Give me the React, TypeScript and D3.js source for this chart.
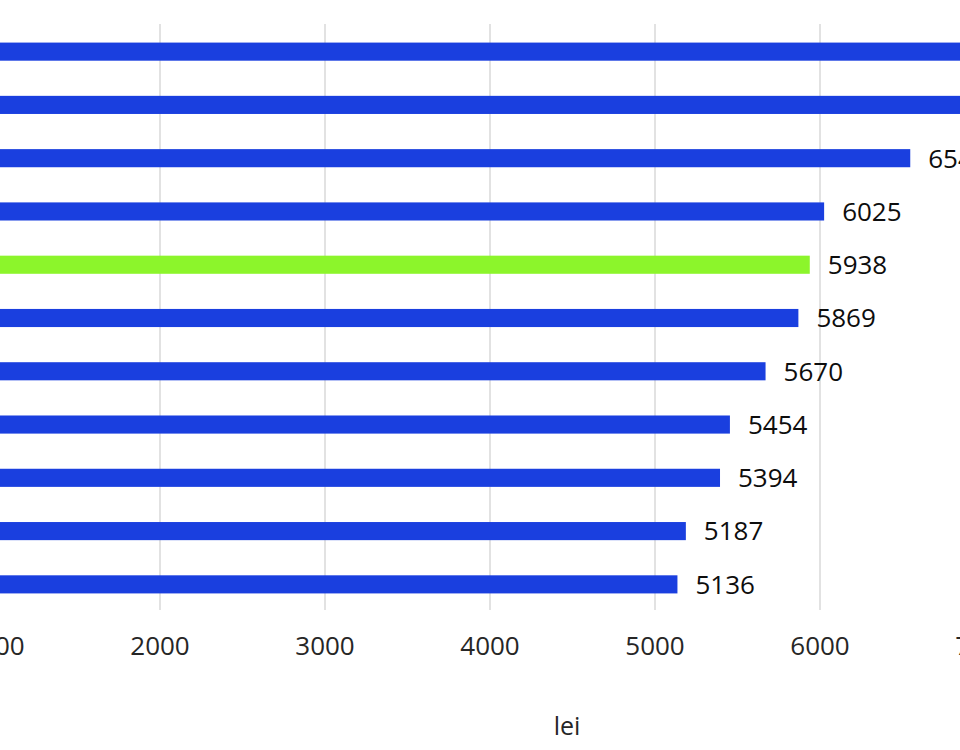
import * as d3 from 'd3';
import React from 'react';
import { useEffect, useRef } from 'react';

// bars top to bottom (first two run past the crop, labels not visible)
const values = [7620, 7310, 6547, 6025, 5938, 5869, 5670, 5454, 5394, 5187, 5136];
const highlight = [false, false, false, false, true, false, false, false, false, false, false];
const ticks = [1000, 2000, 3000, 4000, 5000, 6000, 7000];
const axisTitle = 'lei';

const App = () => {
    const ref = useRef<any>();

    useEffect(() => {
        const width = 960;
        const height = 750;
        const svg = d3.select<any, any>(ref.current)
            .attr('width', width)
            .attr('height', height);
        svg.selectAll('*').remove();

        const font = '"Open Sans", sans-serif';

        // the chart is cropped: 0 sits left of the visible area
        const xScale = d3.scaleLinear().domain([0, 7000]).range([-170, 985]);
        const yScale = d3.scaleBand<number>()
            .domain(values.map((_, i) => i))
            .range([25, 611])
            .paddingInner(0.66)
            .paddingOuter(0.33);

        //grid
        svg.append('g').selectAll('line').data(ticks).join('line')
            .attr('x1', (d) => xScale(d))
            .attr('x2', (d) => xScale(d))
            .attr('y1', 24)
            .attr('y2', 610)
            .attr('stroke', '#e2e2e2')
            .attr('stroke-width', 2);

        //tick labels
        svg.append('g').selectAll('text').data(ticks).join('text')
            .attr('x', (d) => xScale(d))
            .attr('y', 655)
            .attr('text-anchor', 'middle')
            .attr('font-family', font)
            .attr('font-size', 26)
            .attr('fill', '#262626')
            .text((d) => d);

        //bars
        svg.append('g').selectAll('rect').data(values).join('rect')
            .attr('x', xScale(0))
            .attr('y', (_, i) => yScale(i) as number)
            .attr('width', (d) => xScale(d) - xScale(0))
            .attr('height', yScale.bandwidth())
            .attr('fill', (_, i) => highlight[i] ? '#8cf52b' : '#1a3fdf');

        //value labels
        svg.append('g').selectAll('text').data(values).join('text')
            .attr('x', (d) => xScale(d) + 18)
            .attr('y', (_, i) => (yScale(i) as number) + yScale.bandwidth() / 2)
            .attr('dy', '0.36em')
            .attr('font-family', font)
            .attr('font-size', 26)
            .attr('fill', '#0d0d0d')
            .text((d) => d);

        //axis title
        svg.append('text')
            .attr('x', 567)
            .attr('y', 735)
            .attr('text-anchor', 'middle')
            .attr('font-family', font)
            .attr('font-size', 25)
            .attr('fill', '#262626')
            .text(axisTitle);
    });

    return (
        <svg ref={ref} style={{ position: 'absolute', left: 0, top: 0, background: '#fff' }}></svg>
    );
};

export default App;
